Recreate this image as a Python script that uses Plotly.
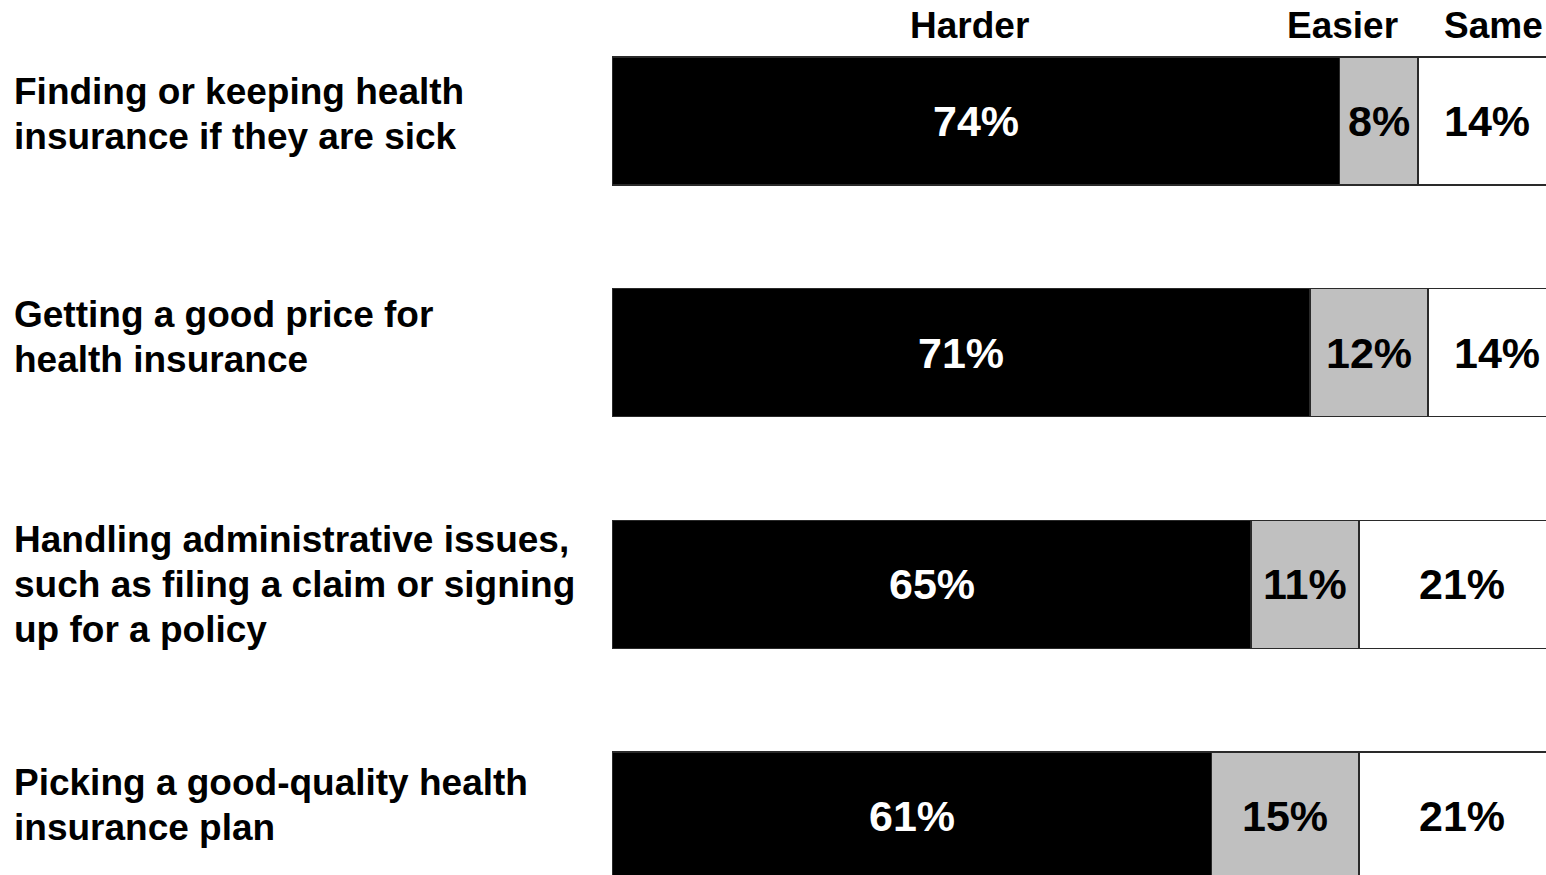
import plotly.graph_objects as go

# ---- data ----
categories = [
    "Finding or keeping health<br>insurance if they are sick",
    "Getting a good price for<br>health insurance",
    "Handling administrative issues,<br>such as filing a claim or signing<br>up for a policy",
    "Picking a good-quality health<br>insurance plan",
]
series_names = ["Harder", "Easier", "Same"]
harder = [74, 71, 65, 61]
easier = [8, 12, 11, 15]
same = [14, 14, 21, 21]

series_values = [harder, easier, same]
fill_colors = ["#000000", "#C0C0C0", "#FFFFFF"]
text_colors = ["#FFFFFF", "#000000", "#000000"]

FONT = "Liberation Sans, Arial, Helvetica, sans-serif"
W, H = 1546, 875
L_MARGIN = 612
PLOT_W = W - L_MARGIN
y_pos = list(range(len(categories)))

fig = go.Figure()
for name, vals, fc in zip(series_names, series_values, fill_colors):
    fig.add_trace(go.Bar(
        y=y_pos, x=vals, name=name, orientation="h",
        width=0.5525,
        marker=dict(color=fc, line=dict(color="#2a2a2a", width=1.5)),
        hoverinfo="x+name", showlegend=False,
    ))

annotations = []
# value labels centred in each segment
for i in range(len(categories)):
    start = 0
    for vals, tc in zip(series_values, text_colors):
        v = vals[i]
        annotations.append(dict(
            x=start + v / 2, y=y_pos[i], xref="x", yref="y",
            text=f"<b>{v}%</b>", showarrow=False,
            font=dict(family=FONT, size=43, color=tc),
            xanchor="center", yanchor="middle",
        ))
        start += v

# category labels (one annotation per line, 45 px line pitch)
first_line_offsets = [-30, -38, -45, -34]  # px of first line from bar centre
for i, cat in enumerate(categories):
    lines = cat.split("<br>")
    for j, ln in enumerate(lines):
        annotations.append(dict(
            x=0, y=y_pos[i], xref="paper", yref="y",
            text=f"<b>{ln}</b>", showarrow=False,
            font=dict(family=FONT, size=37, color="#000000"),
            xanchor="left", yanchor="middle",
            xshift=-L_MARGIN + 12, yshift=-(first_line_offsets[i] + 45 * j),
        ))

# column headers (positions in window pixels)
header_x_px = [969, 1342, 1493]
for name, px in zip(series_names, header_x_px):
    annotations.append(dict(
        x=(px - L_MARGIN) / PLOT_W, y=1 - 26 / H,
        xref="paper", yref="paper",
        text=f"<b>{name}</b>", showarrow=False,
        font=dict(family=FONT, size=37, color="#000000"),
        xanchor="center", yanchor="middle",
    ))

fig.update_layout(
    width=W, height=H,
    barmode="stack",
    plot_bgcolor="white", paper_bgcolor="white",
    margin=dict(l=L_MARGIN, r=0, t=0, b=0),
    xaxis=dict(range=[0, 95], visible=False, fixedrange=True),
    yaxis=dict(range=[3.2546, -0.5223], visible=False, fixedrange=True),
    annotations=annotations,
    font=dict(family=FONT),
)

fig.write_html(
    "out.html",
    config={"displayModeBar": False},
    post_script="document.body.style.margin='0';document.body.style.overflow='hidden';",
)
